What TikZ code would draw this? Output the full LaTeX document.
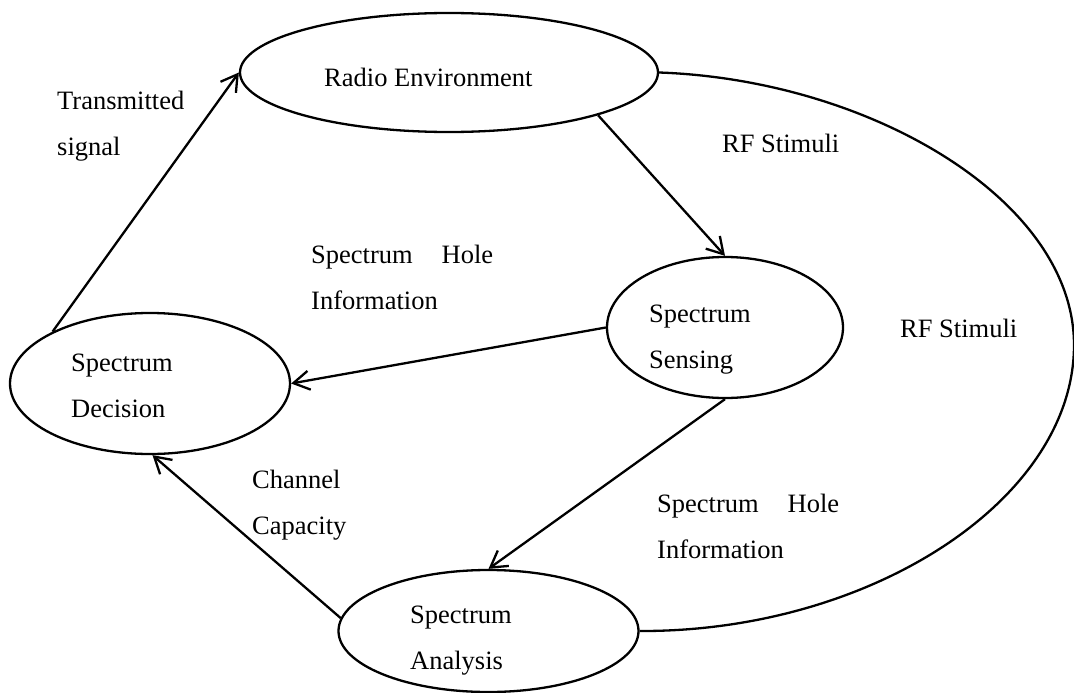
\documentclass[tikz,border=0pt]{standalone}
\usepackage{fontspec}
\setmainfont{Liberation Serif}
\usetikzlibrary{shapes.geometric,arrows.meta}

% two stacked lines, baseline on the first one
\newcommand{\twoline}[2]{\vtop{\hbox{#1}\hbox{#2}}}
% justified "Spectrum ... Hole" line
\newcommand{\spreadline}[2]{\hbox to 182pt{#1\hfill #2}}

\tikzset{
  blob/.style={ellipse, draw, line width=2.3pt, inner sep=0pt},
  lbl/.style={font=\fontsize{26.5}{46}\selectfont, anchor=base west, inner sep=0pt},
  link/.style={line width=2.3pt, -{Straight Barb[length=16pt,width=19pt,line width=2.3pt]}},
  loop/.style={line width=2.3pt}
}

\begin{document}
\begin{tikzpicture}[x=1pt,y=-1pt]
  \useasboundingbox (0,0) rectangle (1074,693);

  % process stages
  \node[blob, minimum width=418pt, minimum height=119pt] (re) at (449,72.5) {};
  \node[blob, minimum width=236pt, minimum height=141pt] (se) at (725,327.5) {};
  \node[blob, minimum width=280pt, minimum height=141pt] (dc) at (150,383.5) {};
  \node[blob, minimum width=300pt, minimum height=122pt] (an) at (488.5,631) {};

  % stage names
  \node[lbl] (reT) at (324,87)  {Radio Environment};
  \node[lbl] (seT) at (649,322) {\twoline{Spectrum}{Sensing}};
  \node[lbl] (dcT) at (71,371)  {\twoline{Spectrum}{Decision}};
  \node[lbl] (anT) at (410,623) {\twoline{Spectrum}{Analysis}};

  % cycle connectors
  \draw[link] (dc.152) -- (re.west);
  \draw[link] (re.-16) -- (se.north);
  \draw[link] (se.west) -- (dc.east);
  \draw[link] (se.south) -- (an.north);
  \draw[link] (an.175) -- (dc.-88);

  % outer RF stimuli path
  \draw[loop] (re.east) .. controls (870,80) and (1074,200) .. (1074,345)
              .. controls (1074,500) and (870,632) .. (an.east);

  % edge labels
  \node[lbl] (lTx) at (57,110)  {\twoline{Transmitted}{signal}};
  \node[lbl] (lH1) at (311,263) {\twoline{\spreadline{Spectrum}{Hole}}{Information}};
  \node[lbl] (lCC) at (252,488) {\twoline{Channel}{Capacity}};
  \node[lbl] (lH2) at (657,512) {\twoline{\spreadline{Spectrum}{Hole}}{Information}};
  \node[lbl] (lR1) at (722,152) {RF Stimuli};
  \node[lbl] (lR2) at (900,337) {RF Stimuli};
\end{tikzpicture}
\end{document}
